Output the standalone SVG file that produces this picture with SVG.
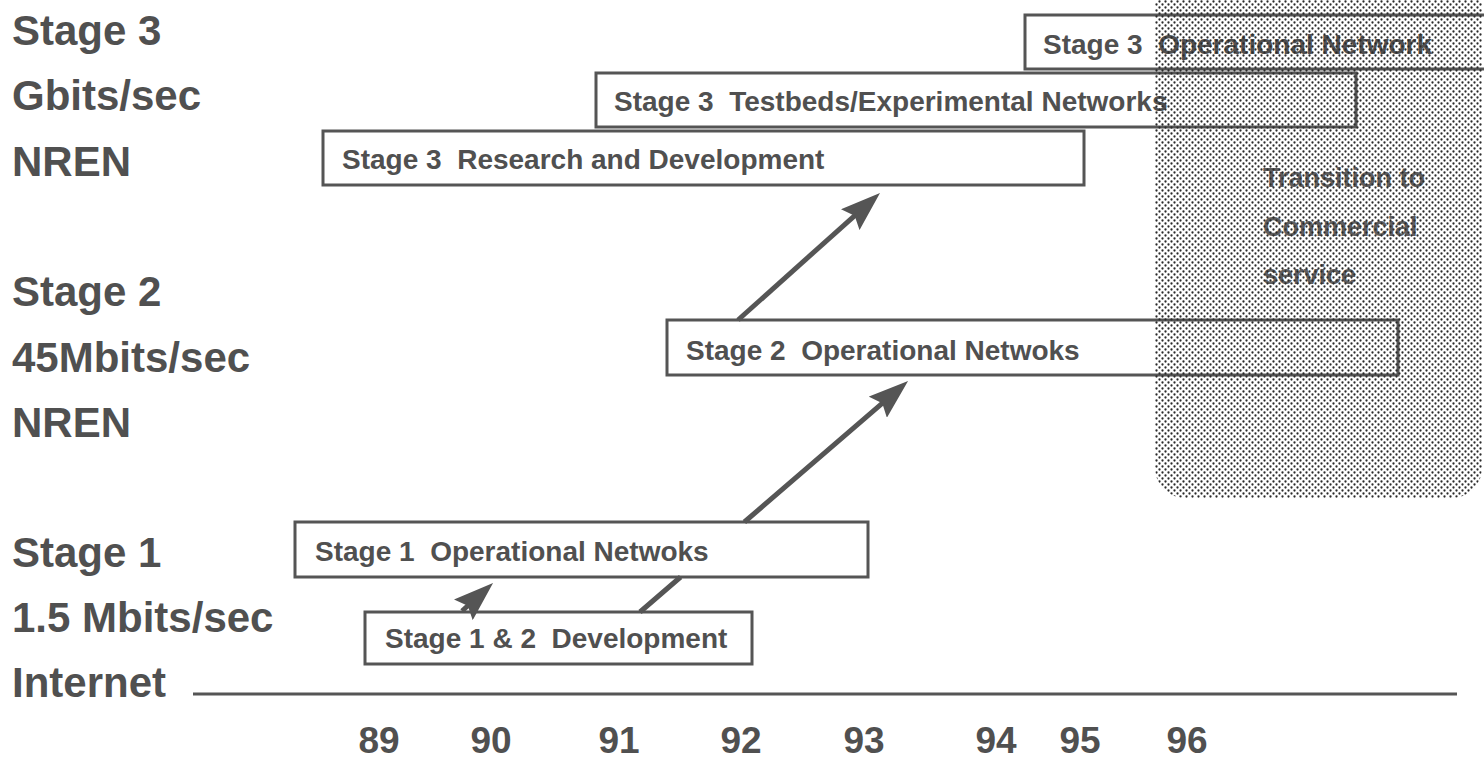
<svg xmlns="http://www.w3.org/2000/svg" width="1484" height="759" viewBox="0 0 1484 759">
  <style>
    text { font-family: "Liberation Sans", Arial, sans-serif; font-weight: bold; fill: #505050; white-space: pre; }
    .lbl { font-size: 42px; }
    .bx text { font-size: 28px; }
    .box { fill: #ffffff; stroke: #555555; stroke-width: 3; }
    .yr { font-size: 37px; text-anchor: middle; }
    .conn { stroke: #555555; stroke-width: 5; fill: none; marker-end: url(#head); }
    .tr { font-size: 27px; fill: #5e5e5e; }
  </style>
  <defs>
    <marker id="head" viewBox="0 0 40 28" markerWidth="40" markerHeight="28" refX="20" refY="14" orient="auto" markerUnits="userSpaceOnUse">
      <path d="M0,0 L40,14 L0,28 L6,14 z" fill="#555555"/>
    </marker>
    <pattern id="stipple" width="6" height="6" patternUnits="userSpaceOnUse">
      <circle cx="1.5" cy="1.5" r="1.15" fill="#2a2a2a"/>
      <circle cx="4.5" cy="4.5" r="1.15" fill="#2a2a2a"/>
    </pattern>
  </defs>

  <g id="axis-labels">
    <text class="lbl" x="12" y="45">Stage 3</text>
    <text class="lbl" x="12" y="110">Gbits/sec</text>
    <text class="lbl" x="12" y="176">NREN</text>
    <text class="lbl" x="12" y="306">Stage 2</text>
    <text class="lbl" x="12" y="372">45Mbits/sec</text>
    <text class="lbl" x="12" y="437">NREN</text>
    <text class="lbl" x="12" y="567">Stage 1</text>
    <text class="lbl" x="12" y="632">1.5 Mbits/sec</text>
    <text class="lbl" x="12" y="697">Internet</text>
  </g>

  <g id="timeline">
    <line x1="193" y1="694" x2="1457" y2="694" stroke="#555555" stroke-width="3"/>
    <text class="yr" x="379" y="753">89</text>
    <text class="yr" x="491" y="753">90</text>
    <text class="yr" x="619" y="753">91</text>
    <text class="yr" x="741" y="753">92</text>
    <text class="yr" x="864" y="753">93</text>
    <text class="yr" x="996" y="753">94</text>
    <text class="yr" x="1080" y="753">95</text>
    <text class="yr" x="1187" y="753">96</text>
  </g>

  <g class="bx">
    <g id="s3-operational">
      <rect class="box" x="1025" y="15" width="480" height="54"/>
      <text x="1043" y="54">Stage 3  Operational Network</text>
    </g>
    <g id="s3-testbeds">
      <rect class="box" x="596" y="73" width="760" height="54"/>
      <text x="614" y="111">Stage 3  Testbeds/Experimental Networks</text>
    </g>
    <g id="s3-research">
      <rect class="box" x="323" y="131" width="761" height="54"/>
      <text x="342" y="169">Stage 3  Research and Development</text>
    </g>
    <g id="s2-operational">
      <rect class="box" x="667" y="320" width="731" height="55"/>
      <text x="686" y="360">Stage 2  Operational Netwoks</text>
    </g>
    <g id="s1-operational">
      <rect class="box" x="295" y="522" width="573" height="55"/>
      <text x="315" y="561">Stage 1  Operational Netwoks</text>
    </g>
    <g id="s12-development">
      <rect class="box" x="365" y="612" width="387" height="52"/>
      <text x="385" y="648">Stage 1 &amp; 2  Development</text>
    </g>
  </g>

  <g id="connectors">
    <path class="conn" d="M738,320 L865.1,206.3"/>
    <path class="conn" d="M640,612 L680.6,577 M744.4,522 L892.9,394.1"/>
    <path class="conn" d="M462,611 L478.2,596.4"/>
  </g>

  <g id="transition">
    <text class="tr" x="1263" y="187">Transition to</text>
    <text class="tr" x="1263" y="236">Commercial</text>
    <text class="tr" x="1263" y="284">service</text>
    <rect x="1155" y="-40" width="327" height="538" rx="30" ry="30" fill="url(#stipple)"/>
  </g>
</svg>
